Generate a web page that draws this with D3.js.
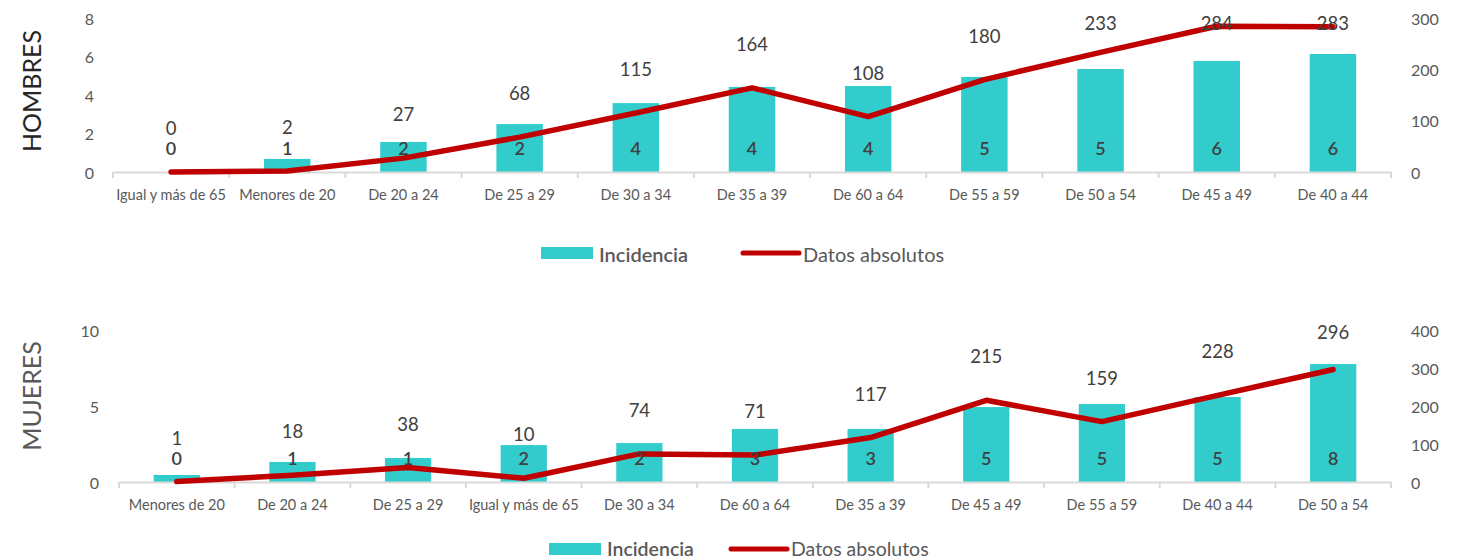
<!DOCTYPE html>
<html>
<head>
<meta charset="utf-8">
<script src="https://cdn.jsdelivr.net/npm/d3@7"></script>
<style>
  html, body { margin: 0; padding: 0; background: #fff; }
  svg { display: block; font-family: Lato, "Noto Sans", sans-serif; }
</style>
</head>
<body>
<svg id="chart" width="1473" height="560"></svg>
<script>
// ---- Data ----
const menCategories = ["Igual y más de 65","Menores de 20","De 20 a 24","De 25 a 29","De 30 a 34","De 35 a 39","De 60 a 64","De 55 a 59","De 50 a 54","De 45 a 49","De 40 a 44"];
const menIncidence = [0, 0.68, 1.56, 2.49, 3.58, 4.42, 4.47, 4.94, 5.35, 5.77, 6.13];
const menIncidenceLabels = ["0","1","2","2","4","4","4","5","5","6","6"];
const menAbsolute = [0, 2, 27, 68, 115, 164, 108, 180, 233, 284, 283];
const menLeftTicks = [0, 2, 4, 6, 8];
const menRightTicks = [0, 100, 200, 300];

const womenCategories = ["Menores de 20","De 20 a 24","De 25 a 29","Igual y más de 65","De 30 a 34","De 60 a 64","De 35 a 39","De 45 a 49","De 55 a 59","De 40 a 44","De 50 a 54"];
const womenIncidence = [0.46, 1.32, 1.58, 2.43, 2.56, 3.49, 3.49, 4.93, 5.13, 5.59, 7.76];
const womenIncidenceLabels = ["0","1","1","2","2","3","3","5","5","5","8"];
const womenAbsolute = [1, 18, 38, 10, 74, 71, 117, 215, 159, 228, 296];
const womenLeftTicks = [0, 5, 10];
const womenRightTicks = [0, 100, 200, 300, 400];

const seriesNames = ["Incidencia", "Datos absolutos"];
const panelTitles = ["HOMBRES", "MUJERES"];

// ---- Style ----
const BAR = "#33CCCC", LINE = "#C00000", AXIS = "#D9D9D9";
const svg = d3.select("#chart");

function panel(o) {
  const x = d3.scaleBand().domain(o.categories).range([o.x0, o.x1]).paddingInner(0).paddingOuter(0);
  const yL = d3.scaleLinear().domain([0, d3.max(o.leftTicks)]).range([o.yBase, o.yTop]);
  const yR = d3.scaleLinear().domain([0, d3.max(o.rightTicks)]).range([o.yBase, o.yTop]);
  const g = svg.append("g");
  const barW = x.bandwidth() * 0.4;

  // bars
  g.selectAll("rect.bar").data(o.incidence).join("rect")
    .attr("x", (d, i) => x(o.categories[i]) + (x.bandwidth() - barW) / 2)
    .attr("width", barW)
    .attr("y", d => yL(d))
    .attr("height", d => yL(0) - yL(d))
    .attr("fill", BAR);

  // x axis
  const xAxis = d3.axisBottom(x).tickSize(0).tickFormat("");
  const ax = g.append("g").attr("transform", `translate(0,${o.yBase})`).call(xAxis);
  ax.select(".domain").attr("stroke", AXIS).attr("stroke-width", 2);
  const bounds = o.categories.map(c => x(c)).concat([o.x1]);
  g.selectAll("line.tk").data(bounds).join("line")
    .attr("x1", d => d).attr("x2", d => d)
    .attr("y1", o.yBase).attr("y2", o.yBase + 6)
    .attr("stroke", AXIS).attr("stroke-width", 2);
  g.selectAll("text.cat").data(o.categories).join("text")
    .attr("x", d => x(d) + x.bandwidth() / 2)
    .attr("y", o.yBase + 22)
    .attr("text-anchor", "middle").attr("dominant-baseline", "central")
    .attr("font-size", 14.5).attr("fill", "#595959")
    .text(d => d);

  // left axis ticks
  g.selectAll("text.yl").data(o.leftTicks).join("text")
    .attr("x", o.leftLabelX).attr("y", d => yL(d))
    .attr("text-anchor", "end").attr("dominant-baseline", "central")
    .attr("font-size", 16).attr("fill", "#595959")
    .text(d => d);
  // right axis ticks
  g.selectAll("text.yr").data(o.rightTicks).join("text")
    .attr("x", 1411).attr("y", d => yR(d))
    .attr("text-anchor", "start").attr("dominant-baseline", "central")
    .attr("font-size", 16).attr("fill", "#595959")
    .text(d => d);

  // line
  const line = d3.line()
    .x((d, i) => x(o.categories[i]) + x.bandwidth() / 2)
    .y(d => yR(d));
  g.append("path").datum(o.absolute)
    .attr("d", line).attr("fill", "none")
    .attr("stroke", LINE).attr("stroke-width", 5.5)
    .attr("stroke-linejoin", "round").attr("stroke-linecap", "round");

  // incidence labels (inside base)
  g.selectAll("text.inc").data(o.incLabels).join("text")
    .attr("x", (d, i) => x(o.categories[i]) + x.bandwidth() / 2)
    .attr("y", o.yBase - 24)
    .attr("text-anchor", "middle").attr("dominant-baseline", "central")
    .attr("font-size", 18).attr("font-weight", 600).attr("fill", "#404040")
    .text(d => d);

  // absolute labels (above)
  g.selectAll("text.abs").data(o.absolute).join("text")
    .attr("x", (d, i) => x(o.categories[i]) + x.bandwidth() / 2)
    .attr("y", d => Math.max(yR(d) - 44, o.yTop + o.clamp))
    .attr("text-anchor", "middle").attr("dominant-baseline", "central")
    .attr("font-size", 18.5).attr("fill", "#404040")
    .text(d => d);

  // panel title
  g.append("text")
    .attr("transform", `translate(31,${o.titleY}) rotate(-90)`)
    .attr("text-anchor", "middle").attr("dominant-baseline", "central")
    .attr("font-size", 25).attr("fill", o.titleColor)
    .text(o.title);

  // legend
  const lg = g.append("g");
  lg.append("rect").attr("x", o.legX).attr("y", o.legY - 6).attr("width", 52).attr("height", 12).attr("fill", BAR);
  lg.append("text").attr("x", o.legX + 58).attr("y", o.legTextY)
    .attr("dominant-baseline", "central").attr("font-size", o.legFont).attr("font-weight", 600).attr("fill", "#595959")
    .text(seriesNames[0]);
  lg.append("line").attr("x1", o.legLineX).attr("x2", o.legLineX + 56)
    .attr("y1", o.legY).attr("y2", o.legY)
    .attr("stroke", LINE).attr("stroke-width", 5).attr("stroke-linecap", "round");
  lg.append("text").attr("x", o.legLineX + 60).attr("y", o.legTextY)
    .attr("dominant-baseline", "central").attr("font-size", o.legFont).attr("fill", "#595959")
    .text(seriesNames[1]);
}

panel({
  categories: menCategories, incidence: menIncidence, incLabels: menIncidenceLabels,
  absolute: menAbsolute, leftTicks: menLeftTicks, rightTicks: menRightTicks,
  x0: 113, x1: 1391, yBase: 172, yTop: 18, leftLabelX: 94, clamp: 5,
  title: panelTitles[0], titleY: 91, titleColor: "#262626",
  legX: 541, legY: 253, legTextY: 254, legFont: 20, legLineX: 743
});

panel({
  categories: womenCategories, incidence: womenIncidence, incLabels: womenIncidenceLabels,
  absolute: womenAbsolute, leftTicks: womenLeftTicks, rightTicks: womenRightTicks,
  x0: 119, x1: 1391, yBase: 482, yTop: 330, leftLabelX: 99, clamp: 2,
  title: panelTitles[1], titleY: 396, titleColor: "#595959",
  legX: 549, legY: 549, legTextY: 548, legFont: 19.5, legLineX: 731
});
</script>
</body>
</html>
